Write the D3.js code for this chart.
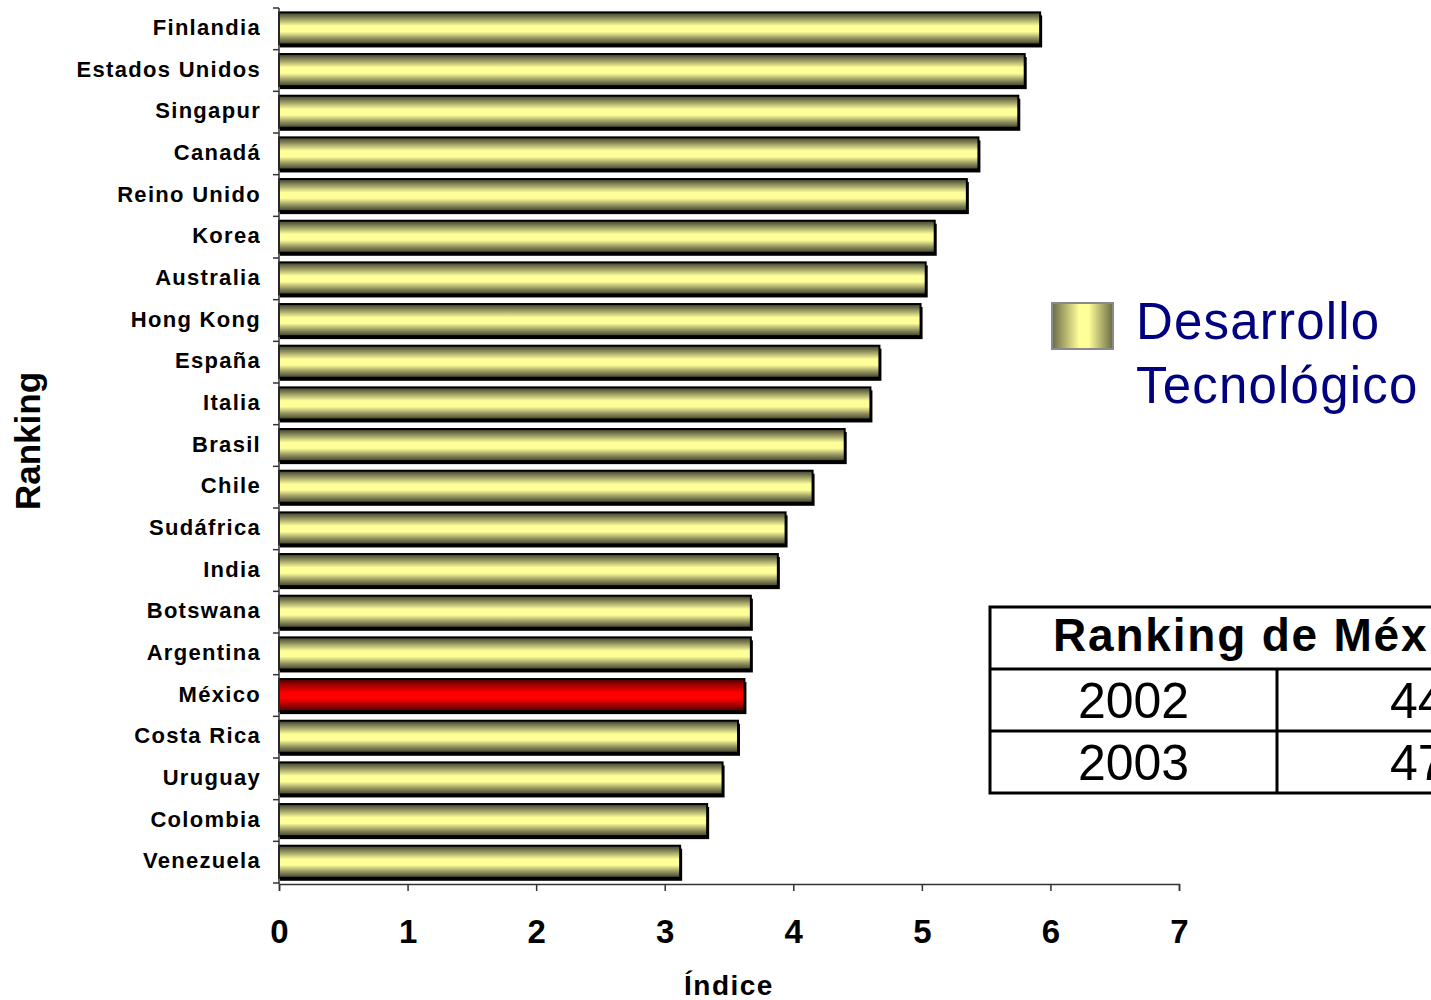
<!DOCTYPE html>
<html><head><meta charset="utf-8">
<script src="https://cdn.jsdelivr.net/npm/d3@7"></script>
<style>
html,body{margin:0;padding:0;background:#fff;overflow:hidden}
svg{display:block}
text{font-family:"Liberation Sans",Arial,sans-serif}
</style></head>
<body>
<script>
const countries = ["Finlandia","Estados Unidos","Singapur","Canadá","Reino Unido","Korea","Australia","Hong Kong","España","Italia","Brasil","Chile","Sudáfrica","India","Botswana","Argentina","México","Costa Rica","Uruguay","Colombia","Venezuela"];
const values = [5.92,5.80,5.75,5.44,5.35,5.10,5.03,4.99,4.67,4.60,4.40,4.15,3.94,3.88,3.67,3.67,3.62,3.57,3.45,3.33,3.12];
const highlight = "México";
const xTicks = [0,1,2,3,4,5,6,7];
const seriesName = ["Desarrollo","Tecnológico"];
const tableTitle = "Ranking de México";
const tableYears = ["2002","2003"];
const tableRanks = ["44","47"];

const W = 1431, H = 1000;
const svg = d3.select("body").append("svg").attr("width", W).attr("height", H);
const defs = svg.append("defs");

function vgrad(id, dark, mid, light){
  const g = defs.append("linearGradient").attr("id", id).attr("x1",0).attr("y1",0).attr("x2",0).attr("y2",1);
  [[0,dark],[0.18,mid],[0.42,light],[0.6,light],[0.82,mid],[1,dark]].forEach(([o,c])=>g.append("stop").attr("offset",o).attr("stop-color",c));
}
vgrad("gy","#3e3e2a","#8e8e5e","#ffff99");
vgrad("gr","#4a0000","#a00000","#ff0000");
const hg = defs.append("linearGradient").attr("id","gl").attr("x1",0).attr("y1",0).attr("x2",1).attr("y2",0);
[[0,"#6a6a46"],[0.45,"#ffff99"],[0.6,"#ffff99"],[1,"#6a6a46"]].forEach(([o,c])=>hg.append("stop").attr("offset",o).attr("stop-color",c));

const x = d3.scaleLinear().domain([0,7]).range([279,1179]);
const y = d3.scaleBand().domain(countries).range([8,883]);
const bw = y.bandwidth();
const barTop = bw*0.105, barH = bw*0.77;

// bars
const g = svg.append("g");
const data = countries.map((c,i)=>({c, v: values[i]}));
g.selectAll("rect.sh").data(data).join("rect")
  .attr("x", x(0)+1).attr("y", d=>y(d.c)+barTop+3)
  .attr("width", d=>x(d.v)-x(0)+1).attr("height", barH)
  .attr("fill","#000");
g.selectAll("rect.bar").data(data).join("rect")
  .attr("x", x(0)).attr("y", d=>y(d.c)+barTop)
  .attr("width", d=>x(d.v)-x(0)).attr("height", barH)
  .attr("fill", d=>d.c===highlight?"url(#gr)":"url(#gy)")
  .attr("stroke","#000").attr("stroke-width",2);

// y axis
const axCol = "#333";
svg.append("line").attr("x1",x(0)).attr("x2",x(0)).attr("y1",y.range()[0]).attr("y2",y.range()[1]+1)
  .attr("stroke",axCol).attr("stroke-width",1.5);
const bounds = countries.map(c=>y(c)).concat([y.range()[1]]);
svg.selectAll("line.yt").data(bounds).join("line")
  .attr("x1",x(0)-6).attr("x2",x(0)).attr("y1",d=>d).attr("y2",d=>d)
  .attr("stroke",axCol).attr("stroke-width",1.5);
svg.selectAll("text.yl").data(countries).join("text")
  .attr("x", 261).attr("y", d=>y(d)+bw/2+6)
  .attr("text-anchor","end").attr("font-size",22).attr("font-weight","bold")
  .attr("letter-spacing",1.3).attr("fill","#000").text(d=>d);

// x axis
const xa = svg.append("g").attr("transform",`translate(0,${y.range()[1]+1})`)
  .call(d3.axisBottom(x).tickValues(xTicks).tickSize(7).tickPadding(29).tickFormat(d3.format("d")));
xa.select(".domain").attr("stroke",axCol).attr("stroke-width",1.5);
xa.selectAll(".tick line").attr("stroke",axCol).attr("stroke-width",1.5);
xa.selectAll(".tick text").attr("font-size",33).attr("font-weight","bold").attr("fill","#000")
  .attr("font-family","Liberation Sans, Arial, sans-serif");

// axis titles
svg.append("text").attr("x",729).attr("y",995).attr("text-anchor","middle")
  .attr("font-size",28).attr("font-weight","bold").attr("letter-spacing",1.5).text("Índice");
svg.append("text").attr("transform","translate(40,441) rotate(-90)").attr("text-anchor","middle")
  .attr("font-size",35).attr("font-weight","bold").text("Ranking");

// legend
svg.append("rect").attr("x",1052).attr("y",303).attr("width",61).attr("height",46)
  .attr("fill","url(#gl)").attr("stroke","#8a8a8a").attr("stroke-width",2);
svg.selectAll("text.lg").data(seriesName).join("text")
  .attr("x",1136).attr("y",(d,i)=>339+i*64).attr("font-size",51).attr("letter-spacing",1.2)
  .attr("fill","#000080").text(d=>d);

// table
const tb = svg.append("g");
const tL = 990, tR = 1560, tTop = 607, rowH = 62, divX = 1277;
tb.append("rect").attr("x",tL).attr("y",tTop).attr("width",tR-tL).attr("height",rowH*3)
  .attr("fill","#fff").attr("stroke","#000").attr("stroke-width",3);
[1,2].forEach(k=>tb.append("line").attr("x1",tL).attr("x2",tR).attr("y1",tTop+k*rowH).attr("y2",tTop+k*rowH).attr("stroke","#000").attr("stroke-width",3));
tb.append("line").attr("x1",divX).attr("x2",divX).attr("y1",tTop+rowH).attr("y2",tTop+rowH*3).attr("stroke","#000").attr("stroke-width",3);
tb.append("text").attr("x",1053).attr("y",tTop+44).attr("font-size",46).attr("font-weight","bold").attr("letter-spacing",1.8).text(tableTitle);
tableYears.forEach((yr,i)=>{
  tb.append("text").attr("x",(tL+divX)/2).attr("y",tTop+rowH*(i+1)+49).attr("text-anchor","middle").attr("font-size",50).text(yr);
  tb.append("text").attr("x",1390).attr("y",tTop+rowH*(i+1)+49).attr("font-size",50).text(tableRanks[i]);
});
</script>
</body></html>
